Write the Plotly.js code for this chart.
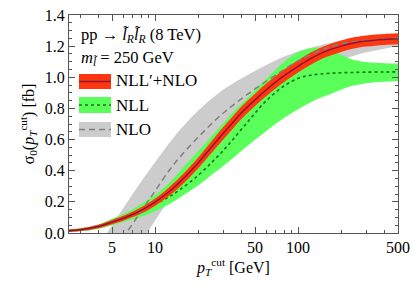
<!DOCTYPE html>
<html>
<head>
<meta charset="utf-8">
<script src="https://cdn.plot.ly/plotly-3.0.1.min.js"></script>
<style>
html,body{margin:0;padding:0;background:#fff;}
#chart{width:415px;height:287px;}
</style>
</head>
<body>
<div id="chart"></div>
<script>
// ---- data ----
// NLL'+NLO (red band + dark central line)
const xRed = [2.5, 3, 4, 5, 6, 7, 8, 10, 12.5, 15, 20, 25, 30, 35, 40, 50, 60, 70, 80, 100, 120, 150, 200, 250, 300, 400, 500];
const redCentral = [0.015, 0.021, 0.042, 0.07, 0.095, 0.12, 0.145, 0.198, 0.265, 0.33, 0.45, 0.555, 0.64, 0.71, 0.77, 0.855, 0.92, 0.97, 1.01, 1.07, 1.115, 1.16, 1.2, 1.222, 1.233, 1.243, 1.247];
const redLower = [0.008, 0.013, 0.031, 0.056, 0.079, 0.102, 0.125, 0.174, 0.237, 0.299, 0.415, 0.517, 0.60, 0.67, 0.73, 0.815, 0.88, 0.93, 0.97, 1.03, 1.075, 1.122, 1.163, 1.186, 1.197, 1.208, 1.212];
const redUpper = [0.022, 0.029, 0.053, 0.084, 0.111, 0.138, 0.165, 0.222, 0.293, 0.361, 0.485, 0.593, 0.68, 0.75, 0.81, 0.895, 0.96, 1.01, 1.05, 1.11, 1.155, 1.198, 1.237, 1.258, 1.269, 1.278, 1.282];

// NLL (green band + dotted line)
const xNLL = [2.5, 3, 4, 5, 6, 8, 10, 12.5, 15, 20, 25, 30, 35, 45, 60, 80, 100, 120, 140, 170, 200, 240, 300, 400, 500];
const nllCentral = [0.014, 0.02, 0.04, 0.068, 0.093, 0.14, 0.185, 0.232, 0.28, 0.37, 0.455, 0.53, 0.60, 0.72, 0.85, 0.945, 0.993, 1.012, 1.02, 1.026, 1.029, 1.031, 1.033, 1.034, 1.035];
const nllLower = [0.007, 0.011, 0.026, 0.05, 0.07, 0.105, 0.14, 0.185, 0.23, 0.305, 0.375, 0.43, 0.48, 0.565, 0.655, 0.74, 0.795, 0.835, 0.865, 0.895, 0.92, 0.945, 0.962, 0.972, 0.975];
const nllUpper = [0.024, 0.031, 0.055, 0.092, 0.122, 0.185, 0.245, 0.32, 0.40, 0.525, 0.625, 0.705, 0.775, 0.875, 0.99, 1.10, 1.16, 1.185, 1.19, 1.17, 1.145, 1.115, 1.098, 1.09, 1.088];

// NLO (gray band + dashed line)
const xNLO = [3, 4, 5, 6, 8, 10, 12.5, 15, 20, 27.5, 35, 50, 70, 100, 150, 200, 300, 500];
const nloCentral = [-0.47, -0.29, -0.15, -0.03, 0.14, 0.27, 0.40, 0.49, 0.615, 0.74, 0.82, 0.925, 1.015, 1.105, 1.18, 1.215, 1.238, 1.25];
const nloLower = [-0.66, -0.48, -0.34, -0.23, -0.06, 0.08, 0.21, 0.31, 0.45, 0.585, 0.675, 0.79, 0.885, 0.975, 1.06, 1.11, 1.16, 1.2];
const nloUpper = [-0.28, -0.09, 0.05, 0.16, 0.33, 0.455, 0.575, 0.665, 0.785, 0.895, 0.96, 1.04, 1.11, 1.165, 1.21, 1.235, 1.255, 1.27];

// ticks
const xMajorTicks = [5, 10, 50, 100, 500];
const xMinorTicks = [3, 4, 6, 7, 8, 9, 20, 30, 40, 60, 70, 80, 90, 200, 300, 400];
const yRange = [0, 1.4];
const xRange = [2.5, 500];

// ---- styles ----
const FONT = 'Liberation Serif, Times New Roman, serif';
const cRed = 'rgb(255,55,15)';
const cRedLine = 'rgb(140,20,60)';
const cGreen = 'rgb(90,255,90)';
const cGreenLine = 'rgb(20,120,20)';
const cGray = 'rgb(204,204,204)';
const cGrayLine = 'rgb(128,128,128)';

function edge(x, y) {
  return {x: x, y: y, mode: 'lines', line: {width: 0, shape: 'spline', smoothing: 1}, hoverinfo: 'skip', showlegend: false};
}
function fillEdge(x, y, color) {
  return {x: x, y: y, mode: 'lines', fill: 'tonexty', fillcolor: color, line: {width: 0, shape: 'spline', smoothing: 1}, hoverinfo: 'skip', showlegend: false};
}

const traces = [
  edge(xNLO, nloLower),
  fillEdge(xNLO, nloUpper, cGray),
  edge(xNLL, nllLower),
  fillEdge(xNLL, nllUpper, cGreen),
  {x: xNLL, y: nllCentral, mode: 'lines', line: {color: cGreenLine, width: 1.6, dash: 'dot', shape: 'spline'}, showlegend: false},
  edge(xRed, redLower),
  fillEdge(xRed, redUpper, cRed),
  {x: xNLO, y: nloCentral, mode: 'lines', line: {color: cGrayLine, width: 1.5, dash: '6px,4px', shape: 'spline'}, showlegend: false},
  {x: xRed, y: redCentral, mode: 'lines', line: {color: cRedLine, width: 1.5, shape: 'spline'}, showlegend: false}
];

const L = 69, R = 398, T = 15, B = 233;
const W = R - L, H = B - T;
const px = v => (v - L) / W;
const py = v => (B - v) / H;

const annFont = {family: FONT, size: 17, color: '#000'};
const annotations = [
  {text: 'pp → <i>l̃</i><sub><i>R</i></sub><i>l̃</i><sub><i>R</i></sub> (8 TeV)', x: px(79), y: py(35), font: {family: FONT, size: 16.5, color: '#000'}},
  {text: '<i>m</i><sub><i>l̃</i></sub> = 250 GeV', x: px(79), y: py(58), font: {family: FONT, size: 16.5, color: '#000'}},
  {text: 'NLL′+NLO', x: px(114), y: py(81)},
  {text: 'NLL', x: px(114), y: py(105)},
  {text: 'NLO', x: px(114), y: py(129)}
].map(a => Object.assign({xref: 'paper', yref: 'paper', xanchor: 'left', yanchor: 'middle', showarrow: false, font: annFont}, a));

const shapes = [
  {type: 'rect', xref: 'paper', yref: 'paper', x0: px(79), x1: px(111), y0: py(89), y1: py(74), fillcolor: cRed, line: {width: 0}},
  {type: 'line', xref: 'paper', yref: 'paper', x0: px(79), x1: px(111), y0: py(81.5), y1: py(81.5), line: {color: cRedLine, width: 1.5}},
  {type: 'rect', xref: 'paper', yref: 'paper', x0: px(79), x1: px(111), y0: py(113), y1: py(97), fillcolor: cGreen, line: {width: 0}},
  {type: 'line', xref: 'paper', yref: 'paper', x0: px(79), x1: px(111), y0: py(105), y1: py(105), line: {color: cGreenLine, width: 1.6, dash: 'dot'}},
  {type: 'rect', xref: 'paper', yref: 'paper', x0: px(79), x1: px(111), y0: py(137), y1: py(122), fillcolor: cGray, line: {width: 0}},
  {type: 'line', xref: 'paper', yref: 'paper', x0: px(79), x1: px(111), y0: py(129.5), y1: py(129.5), line: {color: cGrayLine, width: 1.5, dash: '6px,4px'}}
];

const axisLine = '#555';
const layout = {
  width: 415, height: 287,
  margin: {l: L, r: 415 - R, t: T, b: 287 - B},
  paper_bgcolor: '#fff', plot_bgcolor: '#fff',
  showlegend: false,
  font: {family: FONT, size: 16, color: '#000'},
  xaxis: {
    type: 'log', range: [Math.log10(xRange[0]), Math.log10(xRange[1])],
    tickmode: 'array', tickvals: xMajorTicks, ticktext: xMajorTicks.map(String),
    ticks: 'inside', ticklen: 6, tickcolor: axisLine, tickwidth: 1,
    minor: {tickmode: 'array', tickvals: xMinorTicks, ticks: 'inside', ticklen: 3, tickcolor: axisLine, showgrid: false},
    showline: true, linecolor: axisLine, linewidth: 1, mirror: 'ticks',
    showgrid: false, zeroline: false,
    tickfont: {family: FONT, size: 16},
    title: {text: '<i>p</i><sub><i>T</i></sub><sup>cut</sup> [GeV]', font: {family: FONT, size: 16}, standoff: 4}
  },
  yaxis: {
    range: yRange, dtick: 0.2, tick0: 0, tickformat: '.1f',
    ticks: 'inside', ticklen: 6, tickcolor: axisLine, tickwidth: 1,
    minor: {dtick: 0.05, ticks: 'inside', ticklen: 3, tickcolor: axisLine, showgrid: false},
    showline: true, linecolor: axisLine, linewidth: 1, mirror: 'ticks',
    showgrid: false, zeroline: false,
    tickfont: {family: FONT, size: 16},
    title: {text: 'σ<sub>0</sub>(<i>p</i><sub><i>T</i></sub><sup>cut</sup>) [fb]', font: {family: FONT, size: 16}, standoff: 6}
  },
  annotations: annotations,
  shapes: shapes
};

Plotly.newPlot('chart', traces, layout, {staticPlot: true, displayModeBar: false});
</script>
</body>
</html>
